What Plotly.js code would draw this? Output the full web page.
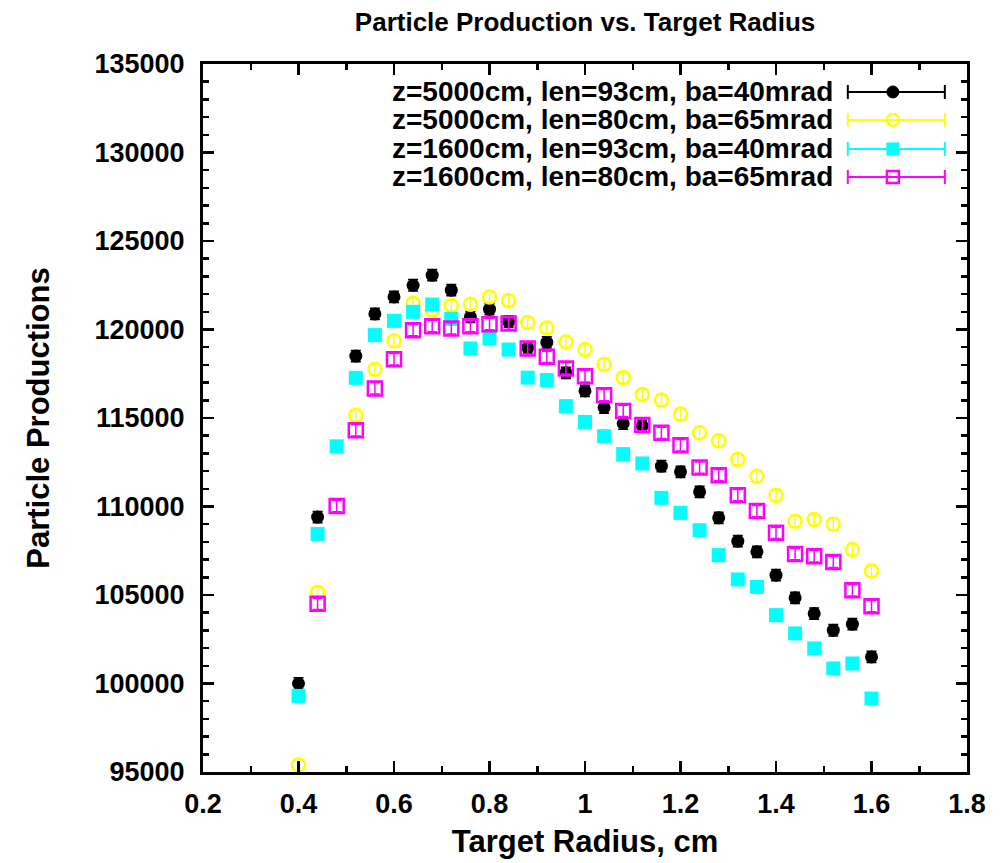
<!DOCTYPE html>
<html>
<head>
<meta charset="utf-8">
<script src="https://cdn.plot.ly/plotly-3.0.1.min.js"></script>
<style>
html,body{margin:0;padding:0;background:#fff;}
#chart{width:1007px;height:863px;}
</style>
</head>
<body>
<div id="chart"></div>
<script>
// ---- data ----
const seriesNames = [
  "z=5000cm, len=93cm, ba=40mrad",
  "z=5000cm, len=80cm, ba=65mrad",
  "z=1600cm, len=93cm, ba=40mrad",
  "z=1600cm, len=80cm, ba=65mrad"
];

const radiusA = [0.40,0.44,0.52,0.56,0.60,0.64,0.68,0.72,0.76,0.80,0.84,0.88,0.92,0.96,1.00,1.04,1.08,1.12,1.16,1.20,1.24,1.28,1.32,1.36,1.40,1.44,1.48,1.52,1.56,1.60];
const prodA = [100000,109400,118500,120880,121840,122500,123070,122220,120710,121150,120450,118980,119270,117550,116530,115590,114690,114550,112280,111960,110830,109360,108040,107440,106120,104840,103950,103010,103350,101500];

const radiusB = [0.40,0.44,0.52,0.56,0.60,0.64,0.68,0.72,0.76,0.80,0.84,0.88,0.92,0.96,1.00,1.04,1.08,1.12,1.16,1.20,1.24,1.28,1.32,1.36,1.40,1.44,1.48,1.52,1.56,1.60];
const prodB = [95400,105150,115160,117760,119360,121480,121100,121350,121430,121840,121620,120390,120090,119300,118870,118020,117290,116330,116010,115220,114160,113710,112660,111710,110640,109170,109270,109000,107570,106360];

const radiusC = [0.40,0.44,0.48,0.52,0.56,0.60,0.64,0.68,0.72,0.76,0.80,0.84,0.88,0.92,0.96,1.00,1.04,1.08,1.12,1.16,1.20,1.24,1.28,1.32,1.36,1.40,1.44,1.48,1.52,1.56,1.60];
const prodC = [99300,108450,113400,117270,119680,120490,121000,121410,120600,118930,119490,118870,117280,117140,115670,114780,113970,112960,112430,110490,109640,108660,107250,105880,105460,103860,102830,101980,100850,101130,99150];

const radiusD = [0.44,0.48,0.52,0.56,0.60,0.64,0.68,0.72,0.76,0.80,0.84,0.88,0.92,0.96,1.00,1.04,1.08,1.12,1.16,1.20,1.24,1.28,1.32,1.36,1.40,1.44,1.48,1.52,1.56,1.60];
const prodD = [104500,110030,114310,116670,118320,119960,120190,120060,120190,120300,120340,118930,118455,117800,117360,116290,115400,114600,114160,113460,112200,111770,110640,109740,108510,107310,107190,106870,105270,104370];

const xTickVals = [0.2,0.4,0.6,0.8,1.0,1.2,1.4,1.6,1.8];
const xTickText = ["0.2","0.4","0.6","0.8","1","1.2","1.4","1.6","1.8"];
const yTickVals = [95000,100000,105000,110000,115000,120000,125000,130000,135000];
const yTickText = ["95000","100000","105000","110000","115000","120000","125000","130000","135000"];

// ---- styles ----
const colors = ["#000000","#ffff00","#00ffff","#ff00ff"];
const symbols = ["circle","circle-open","square","square-open"];
const sizes = [13,13,14,14];
const FONT = "Liberation Sans, Arial, Helvetica, sans-serif";

function mk(x, y, i){
  return {
    x: x, y: y, type: "scatter", mode: "markers", name: seriesNames[i],
    showlegend: false, cliponaxis: true,
    marker: {color: colors[i], symbol: symbols[i], size: sizes[i],
             line: {color: colors[i], width: (i===1||i===3) ? 2.5 : 0}},
    error_y: {type: "constant", value: 320, color: colors[i], thickness: 1.5, width: 5}
  };
}
const traces = [mk(radiusA, prodA, 0), mk(radiusB, prodB, 1), mk(radiusC, prodC, 2), mk(radiusD, prodD, 3)];

// ---- hand-built legend (text left, sample right, gnuplot style) ----
const rowY = [0.9605, 0.921, 0.880, 0.8404];
const textX = 0.827, lineX0 = 0.844, lineX1 = 0.971, markX = 0.903;
const annotations = [], shapes = [];
for (let i = 0; i < 4; i++) {
  annotations.push({xref:"paper", yref:"paper", x:textX, y:rowY[i], xanchor:"right", yanchor:"middle",
    text: seriesNames[i], showarrow:false, font:{family:FONT, size:28, color:"#000", weight:"bold"}});
  shapes.push({type:"line", xref:"paper", yref:"paper", x0:lineX0, x1:lineX1, y0:rowY[i], y1:rowY[i],
    line:{color:colors[i], width:2}});
  [lineX0, lineX1].forEach(px => shapes.push({type:"line", xref:"paper", yref:"paper", ysizemode:"pixel",
    yanchor:rowY[i], y0:-7, y1:7, x0:px, x1:px, line:{color:colors[i], width:2}}));
  const filled = (i===0||i===2);
  shapes.push({type:(i<2?"circle":"rect"), xref:"paper", yref:"paper", xsizemode:"pixel", ysizemode:"pixel",
    xanchor:markX, yanchor:rowY[i], x0:-6, x1:6, y0:-6, y1:6,
    fillcolor: filled ? colors[i] : "rgba(0,0,0,0)", line:{color:colors[i], width: filled?1:2.5}});
}

const axisCommon = {
  showline: true, linecolor: "#000", linewidth: 3, mirror: "ticks",
  ticks: "inside", ticklen: 11, tickwidth: 2.5, tickcolor: "#000",
  showgrid: false, zeroline: false,
  tickfont: {family: FONT, size: 27, color: "#000", weight: "bold"}
};

const layout = {
  width: 1007, height: 863,
  paper_bgcolor: "#fff", plot_bgcolor: "#fff",
  margin: {l: 203, r: 40, t: 64, b: 91},
  title: {text: "Particle Production vs. Target Radius", x: 0.581, xanchor: "center", y: 0.975, yanchor: "middle",
          font: {family: FONT, size: 26, color: "#000", weight: "bold"}},
  xaxis: Object.assign({}, axisCommon, {
    range: [0.2, 1.8], tickvals: xTickVals, ticktext: xTickText,
    minor: {dtick: 0.1, ticks: "inside", ticklen: 6, tickwidth: 2.5, tickcolor: "#000"},
    ticklabelstandoff: 6,
    title: {text: "Target Radius, cm", standoff: 12, font: {family: FONT, size: 31, color: "#000", weight: "bold"}}
  }),
  yaxis: Object.assign({}, axisCommon, {
    range: [95000, 135000], tickvals: yTickVals, ticktext: yTickText,
    minor: {dtick: 1000, ticks: "inside", ticklen: 6, tickwidth: 2.5, tickcolor: "#000"},
    ticklabelstandoff: 10,
    title: {text: "Particle Productions", standoff: 36, font: {family: FONT, size: 31, color: "#000", weight: "bold"}}
  }),
  annotations: annotations,
  shapes: shapes
};

Plotly.newPlot("chart", traces, layout, {staticPlot: true, displayModeBar: false});
</script>
</body>
</html>
